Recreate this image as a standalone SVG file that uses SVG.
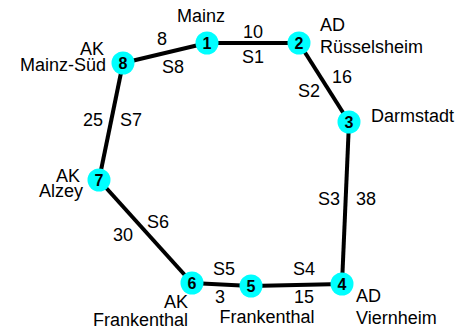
<svg xmlns="http://www.w3.org/2000/svg" width="465" height="329" viewBox="0 0 465 329">
  <style>
    .edge { stroke: #000; stroke-width: 4; fill: none; }
    .node circle { fill: #00ffff; stroke: none; }
    .num { font-family: "Liberation Sans", Arial, sans-serif; font-size: 16px; font-weight: bold; text-anchor: middle; fill: #000; }
    .lbl { font-family: "Liberation Sans", Arial, sans-serif; font-size: 18px; font-weight: normal; fill: #000; }
    .mid { text-anchor: middle; }
    .end { text-anchor: end; }
    .start { text-anchor: start; }
  </style>
  <rect width="465" height="329" fill="#fff"/>
  <!-- road segments with their length and section labels -->
  <g id="edges">
    <line class="edge" x1="207" y1="43" x2="299" y2="43"/>
    <line class="edge" x1="299" y1="43" x2="349" y2="122"/>
    <line class="edge" x1="349" y1="122" x2="342" y2="284"/>
    <line class="edge" x1="342" y1="284" x2="251" y2="286"/>
    <line class="edge" x1="251" y1="286" x2="192" y2="283"/>
    <line class="edge" x1="192" y1="283" x2="99" y2="180"/>
    <line class="edge" x1="99" y1="180" x2="123" y2="63"/>
    <line class="edge" x1="123" y1="63" x2="207" y2="43"/>
    <text class="lbl mid" x="253" y="38">10</text>
    <text class="lbl mid" x="253" y="63">S1</text>
    <text class="lbl mid" x="342" y="83">16</text>
    <text class="lbl mid" x="309" y="97">S2</text>
    <text class="lbl mid" x="329" y="205">S3</text>
    <text class="lbl mid" x="366" y="205">38</text>
    <text class="lbl mid" x="304" y="275">S4</text>
    <text class="lbl mid" x="304" y="303">15</text>
    <text class="lbl mid" x="224" y="275">S5</text>
    <text class="lbl mid" x="220" y="303">3</text>
    <text class="lbl mid" x="158" y="228">S6</text>
    <text class="lbl mid" x="123" y="241">30</text>
    <text class="lbl mid" x="93" y="126">25</text>
    <text class="lbl mid" x="131" y="126">S7</text>
    <text class="lbl mid" x="162" y="45">8</text>
    <text class="lbl mid" x="173" y="73">S8</text>
  </g>
  <!-- junctions -->
  <g id="n1" class="node">
    <circle cx="207" cy="43" r="11.5"/>
    <text class="num" x="207" y="49">1</text>
    <text class="lbl mid" x="201" y="22">Mainz</text>
  </g>
  <g id="n2" class="node">
    <circle cx="299" cy="43" r="11.5"/>
    <text class="num" x="299" y="49">2</text>
    <text class="lbl start" x="320" y="31">AD</text>
    <text class="lbl start" x="320" y="53">Rüsselsheim</text>
  </g>
  <g id="n3" class="node">
    <circle cx="349" cy="122" r="11.5"/>
    <text class="num" x="349" y="128">3</text>
    <text class="lbl start" x="371" y="122">Darmstadt</text>
  </g>
  <g id="n4" class="node">
    <circle cx="342" cy="284" r="11.5"/>
    <text class="num" x="342" y="290">4</text>
    <text class="lbl start" x="356" y="302">AD</text>
    <text class="lbl start" x="356" y="324">Viernheim</text>
  </g>
  <g id="n5" class="node">
    <circle cx="251" cy="286" r="11.5"/>
    <text class="num" x="251" y="292">5</text>
    <text class="lbl mid" x="267" y="323">Frankenthal</text>
  </g>
  <g id="n6" class="node">
    <circle cx="192" cy="283" r="11.5"/>
    <text class="num" x="192" y="289">6</text>
    <text class="lbl end" x="188" y="308">AK</text>
    <text class="lbl end" x="188" y="326">Frankenthal</text>
  </g>
  <g id="n7" class="node">
    <circle cx="99" cy="180" r="11.5"/>
    <text class="num" x="99" y="186">7</text>
    <text class="lbl end" x="80" y="182">AK</text>
    <text class="lbl end" x="83" y="197">Alzey</text>
  </g>
  <g id="n8" class="node">
    <circle cx="123" cy="63" r="11.5"/>
    <text class="num" x="123" y="69">8</text>
    <text class="lbl end" x="104" y="55">AK</text>
    <text class="lbl end" x="106" y="71">Mainz-Süd</text>
  </g>
</svg>
